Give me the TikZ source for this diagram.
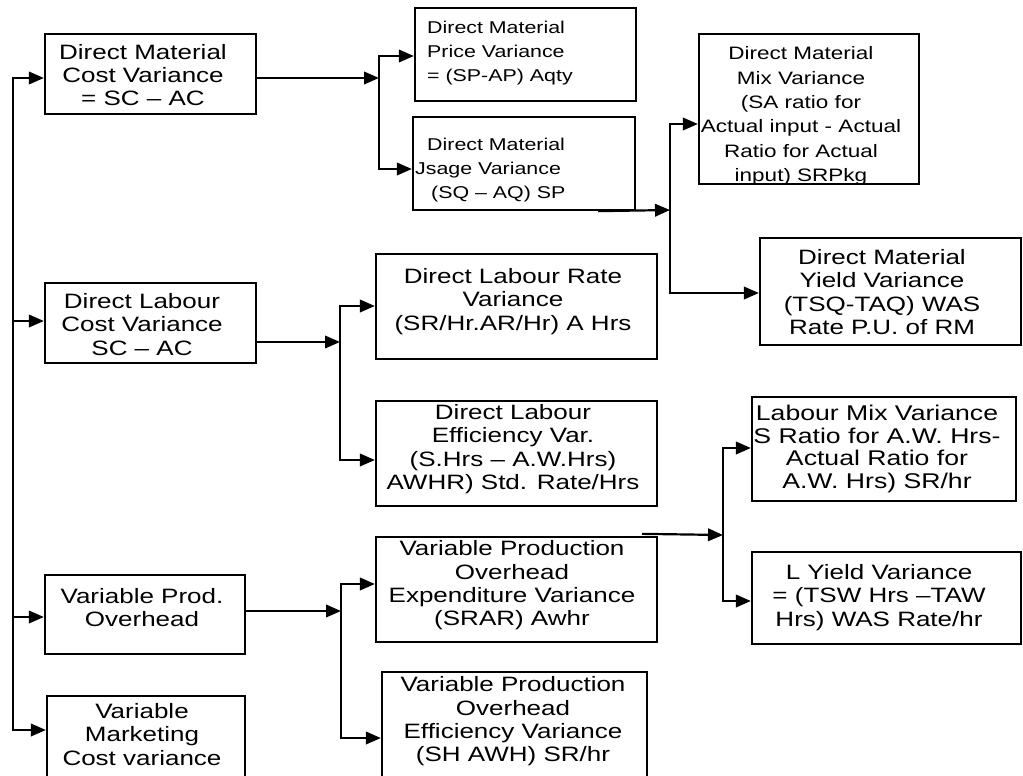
\documentclass[tikz,border=0pt]{standalone}
\usepackage{fontspec}
\setmainfont{Liberation Sans}[FakeStretch=1.25]
\usetikzlibrary{arrows.meta,calc}
\begin{document}
\begin{tikzpicture}[x=1pt,y=-1pt,
  box/.style={draw, line width=2.3pt, inner sep=0pt},
  txt/.style={align=center, inner sep=0pt, font=\fontsize{20.8}{23.3}\selectfont},
  small/.style={font=\fontsize{17.1}{24}\selectfont},
  link/.style={line width=2.2pt},
  arr/.style={link, -{Triangle[length=15pt,width=12.5pt]}}]
\useasboundingbox (0,0) rectangle (1023,776);
\clip (0,0) rectangle (1023,776);

% ---- boxes (frames) ----
\node[box, minimum width=211pt, minimum height=80pt]  (dmcv) at (150.5,74) {};
\node[box, minimum width=211pt, minimum height=80pt]  (dlcv) at (150.5,323) {};
\node[box, minimum width=200pt, minimum height=79pt]  (vpo)  at (145,614.5) {};
\node[box, minimum width=198pt, minimum height=104pt] (vmc)  at (146,748) {};

\node[box, minimum width=221pt, minimum height=93pt]  (dmp)  at (525.5,54.5) {};
\node[box, minimum width=222pt, minimum height=93pt]  (dmu)  at (524,163.5) {};
\node[box, minimum width=281pt, minimum height=105pt] (dlr)  at (516.5,306.5) {};
\node[box, minimum width=281pt, minimum height=105pt] (dle)  at (516.5,453.5) {};
\node[box, minimum width=281pt, minimum height=105pt] (vpoe) at (516.5,589.5) {};
\node[box, minimum width=265pt, minimum height=128pt] (vpof) at (514.5,736) {};

\node[box, minimum width=220pt, minimum height=150pt] (dmm)  at (809,109) {};
\node[box, minimum width=261pt, minimum height=107pt] (dmy)  at (890.5,291.5) {};
\node[box, minimum width=264pt, minimum height=104pt] (lmix) at (884,449) {};
\node[box, minimum width=269pt, minimum height=92pt]  (lyld) at (886.5,598) {};

% ---- texts ----
\node[txt] (dmcv-t) at (143,75) {Direct Material\\Cost Variance\\= SC – AC};
\node[txt] (dlcv-t) at (142,324.5) {Direct Labour\\Cost Variance\\SC – AC};
\node[txt] (vpo-t)  at (142,607.5) {Variable Prod.\\Overhead};
\node[txt] (vmc-t)  at (142,734.5) {Variable\\Marketing\\Cost variance};

\node[txt, small, align=left, anchor=west] (dmp-t) at (427,53)
  {Direct Material\\Price Variance\\= (SP-AP) Aqty};
\node[txt, small, align=left, anchor=west] (dmu-t) at (415,170)
  {\hspace*{12pt}Direct Material\\Jsage Variance\\\hspace*{16pt}(SQ – AQ) SP};
\node[txt] (dlr-t)  at (513,301.5) {Direct Labour Rate\\Variance\\(SR/Hr.AR/Hr) A Hrs};
\node[txt] (dle-t)  at (513,449) {Direct Labour\\Efficiency Var.\\(S.Hrs – A.W.Hrs)\\AWHR) Std. Rate/Hrs};
\node[txt] (vpoe-t) at (512,585.5) {Variable Production\\Overhead\\Expenditure Variance\\(SRAR) Awhr};
\node[txt] (vpof-t) at (513,721.5) {Variable Production\\Overhead\\Efficiency Variance\\(SH AWH) SR/hr};

\node[txt, font=\fontsize{18}{24.4}\selectfont] (dmm-t) at (801,116)
  {Direct Material\\Mix Variance\\(SA ratio for\\Actual input - Actual\\Ratio for Actual\\input) SRPkg};
\node[txt] (dmy-t)  at (882,292) {Direct Material\\Yield Variance\\(TSQ-TAQ) WAS\\Rate P.U. of RM};
\node[txt, font=\fontsize{21.3}{22.7}\selectfont] (lmix-t) at (877,449)
  {Labour Mix Variance\\S Ratio for A.W. Hrs-\\Actual Ratio for\\A.W. Hrs) SR/hr};
\node[txt] (lyld-t) at (879,597.5) {L Yield Variance\\= (TSW Hrs –TAW\\Hrs) WAS Rate/hr};

% ---- left trunk ----
\coordinate (t0) at (13,78);
\coordinate (t1) at (13,730);
\coordinate (t2) at (13,321);
\coordinate (t3) at (13,617);
\draw[arr] (t1) -- (t0) -- (dmcv.west |- t0);
\draw[arr] (t0) -- (t1) -- (vmc.west |- t1);
\draw[arr] (t2) -- (dlcv.west |- t2);
\draw[arr] (t3) -- (vpo.west |- t3);

% ---- material cost split ----
\coordinate (b1)  at (379,78);
\coordinate (b1t) at (379,56);
\coordinate (b1b) at (379,169);
\draw[arr] (dmcv.east |- b1) -- (b1);
\draw[arr] (b1) -- (b1t) -- (dmp.west |- b1t);
\draw[arr] (b1) -- (b1b) -- (dmu.west |- b1b);

% ---- usage split ----
\coordinate (b2)  at (670,210);
\coordinate (b2t) at (670,124);
\coordinate (b2b) at (670,293);
\draw[arr] ([xshift=74pt]dmu.south) -- (b2);
\draw[arr] (b2) -- (b2t) -- (dmm.west |- b2t);
\draw[arr] (b2) -- (b2b) -- (dmy.west |- b2b);

% ---- labour cost split ----
\coordinate (b3)  at (340,342);
\coordinate (b3t) at (340,306);
\coordinate (b3b) at (340,460);
\draw[arr] (dlcv.east |- b3) -- (b3);
\draw[arr] (b3) -- (b3t) -- (dlr.west |- b3t);
\draw[arr] (b3) -- (b3b) -- (dle.west |- b3b);

% ---- production overhead split ----
\coordinate (b4)  at (341,611);
\coordinate (b4t) at (341,584);
\coordinate (b4b) at (341,738);
\draw[arr] (vpo.east |- b4) -- (b4);
\draw[arr] (b4) -- (b4t) -- (vpoe.west |- b4t);
\draw[arr] (b4) -- (b4b) -- (vpof.west |- b4b);

% ---- labour mix / yield split ----
\coordinate (b5)  at (723,535);
\coordinate (b5t) at (723,448);
\coordinate (b5b) at (723,601);
\draw[arr] ($(vpoe.north)+(125.5,-2)$) -- (b5);
\draw[arr] (b5) -- (b5t) -- (lmix.west |- b5t);
\draw[arr] (b5) -- (b5b) -- (lyld.west |- b5b);
\end{tikzpicture}
\end{document}
